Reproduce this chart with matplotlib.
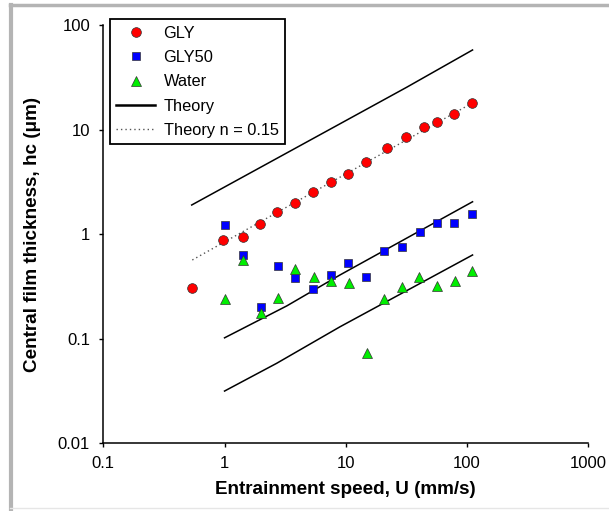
import numpy as np
import matplotlib
matplotlib.use("Agg")
import matplotlib.pyplot as plt
from matplotlib.lines import Line2D

plt.rcParams['font.family'] = ['Liberation Sans', 'DejaVu Sans']

# measured film thickness (um) against entrainment speed (mm/s)
gly_u = [0.537, 0.98, 1.42, 1.96, 2.73, 3.84, 5.38, 7.56, 10.5, 14.7, 22.0, 31.5, 44.0, 56.5, 78.7, 110]
gly_h = [0.308, 0.88, 0.94, 1.25, 1.63, 2.0, 2.55, 3.13, 3.76, 4.87, 6.62, 8.49, 10.6, 11.9, 14.2, 17.8]

gly50_u = [1.0, 1.42, 1.98, 2.75, 3.83, 5.38, 7.56, 10.5, 14.7, 20.6, 28.9, 40.6, 56.5, 78.7, 110]
gly50_h = [1.22, 0.637, 0.203, 0.50, 0.378, 0.301, 0.404, 0.53, 0.392, 0.695, 0.754, 1.06, 1.27, 1.27, 1.56]

water_u = [1.0, 1.43, 1.99, 2.77, 3.84, 5.45, 7.6, 10.6, 14.9, 20.6, 29.2, 40.2, 57, 79.5, 110]
water_h = [0.238, 0.562, 0.175, 0.243, 0.468, 0.386, 0.354, 0.344, 0.0726, 0.238, 0.315, 0.386, 0.322, 0.356, 0.445]

# theoretical predictions
th_gly_u = [0.536, 7.41, 31.8, 111]
th_gly_h = [1.90, 10.07, 25.4, 57.7]
th_gly50_u = [1.0, 3.26, 8.95, 111]
th_gly50_h = [0.102, 0.206, 0.407, 2.04]
th_water_u = [1.0, 2.69, 8.95, 111]
th_water_h = [0.0316, 0.0582, 0.130, 0.632]
th_n_u = [0.542, 110]
th_n_h = [0.566, 17.9]

x_ticks = [0.1, 1, 10, 100, 1000]
x_labels = ['0.1', '1', '10', '100', '1000']
y_ticks = [0.01, 0.1, 1, 10, 100]
y_labels = ['0.01', '0.1', '1', '10', '100']

W, H = 609, 511
fig = plt.figure(figsize=(W / 100, H / 100), dpi=100)
ax = fig.add_axes([103.3 / W, 1 - 443.3 / H, 485 / W, 418.3 / H])

lw = 1.1
ax.plot(th_gly_u, th_gly_h, color='black', lw=lw, label='Theory', zorder=2)
ax.plot(th_gly50_u, th_gly50_h, color='black', lw=lw, zorder=2)
ax.plot(th_water_u, th_water_h, color='black', lw=lw, zorder=2)
ax.plot(th_n_u, th_n_h, color='#555555', lw=1.0, ls=(0, (1, 2.2)), label='Theory n = 0.15', zorder=2)

mk = dict(linestyle='none', markeredgecolor='#333333', markeredgewidth=0.5, zorder=3)
ax.plot(gly_u, gly_h, marker='o', markersize=7.0, color='#ff0000', label='GLY', **mk)
ax.plot(gly50_u, gly50_h, marker='s', markersize=6.4, color='#0000ff', label='GLY50', **mk)
ax.plot(water_u, water_h, marker='^', markersize=7.0, color='#00ee00', label='Water', **mk)

ax.set_xscale('log')
ax.set_yscale('log')
ax.set_xlim(0.1, 1000)
ax.set_ylim(0.01, 100)
ax.set_xticks(x_ticks)
ax.set_xticklabels(x_labels)
ax.set_yticks(y_ticks)
ax.set_yticklabels(y_labels)
ax.xaxis.set_minor_locator(matplotlib.ticker.NullLocator())
ax.yaxis.set_minor_locator(matplotlib.ticker.NullLocator())
ax.tick_params(axis='both', direction='out', length=3, width=1.0, labelsize=12, pad=6.5, colors='black')
for s in ['top', 'right']:
    ax.spines[s].set_visible(False)
for s in ['left', 'bottom']:
    ax.spines[s].set_linewidth(1.1)

ax.set_xlabel('Entrainment speed, U (mm/s)', fontsize=13.6, fontweight='bold', labelpad=7)
ax.set_ylabel('Central film thickness, hc (\u03bcm)', fontsize=13.6, fontweight='bold', labelpad=12)

handles, labels = ax.get_legend_handles_labels()
order = [2, 3, 4, 0, 1]
leg = ax.legend([handles[i] for i in order], [labels[i] for i in order],
                loc='upper left', bbox_to_anchor=(109.5 / W, 1 - 19 / H),
                bbox_transform=fig.transFigure, borderaxespad=0,
                fontsize=11.8, frameon=True, fancybox=False, framealpha=1,
                edgecolor='black', handlelength=2.4, handletextpad=0.5,
                labelspacing=0.57, borderpad=0.4)
leg.get_frame().set_linewidth(1.3)
leg.get_lines()[3].set_linewidth(1.8)

# grey frame around the figure
gc = '#b4b4b4'
fig.add_artist(Line2D([11.3 / W, 11.3 / W], [0, 1 - 5 / H], color=gc, lw=3, transform=fig.transFigure))
fig.add_artist(Line2D([10 / W, 1], [1 - 5 / H, 1 - 5 / H], color=gc, lw=2.5, transform=fig.transFigure))
fig.add_artist(Line2D([10 / W, 1], [1 - 508 / H, 1 - 508 / H], color='#e6e6e6', lw=1, transform=fig.transFigure))

fig.savefig('out.png', dpi=100)
